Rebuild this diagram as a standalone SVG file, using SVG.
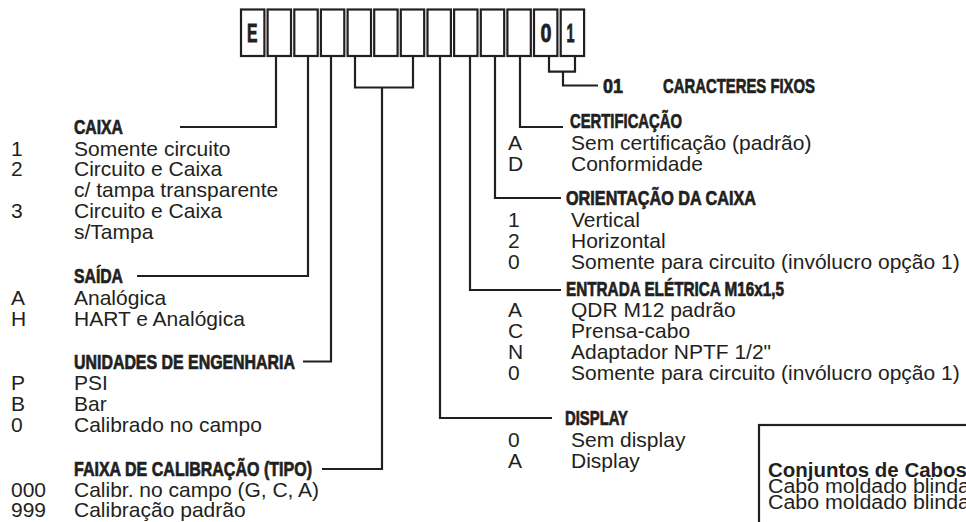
<svg xmlns="http://www.w3.org/2000/svg" width="966" height="522" viewBox="0 0 966 522">
<style>
.h{font-family:"Liberation Sans",Arial,sans-serif;font-weight:bold;font-size:20px;fill:#231f20;stroke:#231f20;stroke-width:0.7px}
.t{font-family:"Liberation Sans",Arial,sans-serif;font-size:21px;fill:#231f20}
.b{font-family:"Liberation Sans",Arial,sans-serif;font-size:19.5px;fill:#231f20}
.bb{font-family:"Liberation Sans",Arial,sans-serif;font-size:19.5px;font-weight:bold;fill:#231f20}
.k{font-family:"Liberation Sans",Arial,sans-serif;font-weight:bold;font-size:25px;fill:#231f20;stroke:#231f20;stroke-width:0.8px;text-anchor:middle}
.box{fill:#fff;stroke:#231f20;stroke-width:2.2}
.ln{fill:none;stroke:#231f20;stroke-width:2.2}
</style>
<rect width="966" height="522" fill="#fff"/>
<g id="code-boxes">
  <g id="box-1"><rect class="box" x="241" y="9.5" width="23.4" height="46.5"/><text class="k" x="252.2" y="42" textLength="10.5" lengthAdjust="spacingAndGlyphs">E</text></g>
  <g id="box-2"><rect class="box" x="267.6" y="9.5" width="23.4" height="46.5"/></g>
  <g id="box-3"><rect class="box" x="294.3" y="9.5" width="23.4" height="46.5"/></g>
  <g id="box-4"><rect class="box" x="320.9" y="9.5" width="23.4" height="46.5"/></g>
  <g id="box-5"><rect class="box" x="347.6" y="9.5" width="23.4" height="46.5"/></g>
  <g id="box-6"><rect class="box" x="374.2" y="9.5" width="23.4" height="46.5"/></g>
  <g id="box-7"><rect class="box" x="400.8" y="9.5" width="23.4" height="46.5"/></g>
  <g id="box-8"><rect class="box" x="427.5" y="9.5" width="23.4" height="46.5"/></g>
  <g id="box-9"><rect class="box" x="454.1" y="9.5" width="23.4" height="46.5"/></g>
  <g id="box-10"><rect class="box" x="480.8" y="9.5" width="23.4" height="46.5"/></g>
  <g id="box-11"><rect class="box" x="507.4" y="9.5" width="23.4" height="46.5"/></g>
  <g id="box-12"><rect class="box" x="534" y="9.5" width="23.4" height="46.5"/><text class="k" x="546" y="42" textLength="11" lengthAdjust="spacingAndGlyphs">0</text></g>
  <g id="box-13"><rect class="box" x="560.7" y="9.5" width="23.4" height="46.5"/><text class="k" x="570.5" y="42" textLength="8" lengthAdjust="spacingAndGlyphs">1</text></g>
</g>
<g id="connectors">
  <polyline class="ln" points="276,56 276,127 180,127"/>
  <polyline class="ln" points="308,56 308,276 137,276"/>
  <polyline class="ln" points="331,56 331,361.5 303,361.5"/>
  <polyline class="ln" points="355,56 355,87.5 413,87.5 413,56"/>
  <polyline class="ln" points="382,87.5 382,469 322,469"/>
  <polyline class="ln" points="440,56 440,418 552,418"/>
  <polyline class="ln" points="470,56 470,290 561,290"/>
  <polyline class="ln" points="495,56 495,198 561,198"/>
  <polyline class="ln" points="520,56 520,127 563,127"/>
  <polyline class="ln" points="549,56 549,71.7 575,71.7 575,56"/>
  <polyline class="ln" points="563,71.7 563,85.5 598,85.5"/>
</g>
<g id="caracteres-fixos">
  <text class="h" x="603" y="93" textLength="20" lengthAdjust="spacingAndGlyphs">01</text>
  <text class="h" x="663" y="93" textLength="152" lengthAdjust="spacingAndGlyphs">CARACTERES FIXOS</text>
</g>
<g id="caixa">
  <text class="h" x="74" y="134" textLength="49" lengthAdjust="spacingAndGlyphs">CAIXA</text>
  <text class="t" x="11" y="155.5">1</text><text class="t" x="74" y="155.5">Somente circuito</text>
  <text class="t" x="11" y="176.3">2</text><text class="t" x="74" y="176.3">Circuito e Caixa</text>
  <text class="t" x="74" y="197">c/ tampa transparente</text>
  <text class="t" x="11" y="218">3</text><text class="t" x="74" y="218">Circuito e Caixa</text>
  <text class="t" x="74" y="239">s/Tampa</text>
</g>
<g id="saida">
  <text class="h" x="74" y="283" textLength="49" lengthAdjust="spacingAndGlyphs">SAÍDA</text>
  <text class="t" x="11" y="305">A</text><text class="t" x="74" y="305">Analógica</text>
  <text class="t" x="11" y="326">H</text><text class="t" x="74" y="326">HART e Analógica</text>
</g>
<g id="unidades">
  <text class="h" x="74" y="369" textLength="221" lengthAdjust="spacingAndGlyphs">UNIDADES DE ENGENHARIA</text>
  <text class="t" x="11" y="390">P</text><text class="t" x="74" y="390">PSI</text>
  <text class="t" x="11" y="411">B</text><text class="t" x="74" y="411">Bar</text>
  <text class="t" x="11" y="432">0</text><text class="t" x="74" y="432">Calibrado no campo</text>
</g>
<g id="faixa">
  <text class="h" x="74" y="476" textLength="238" lengthAdjust="spacingAndGlyphs">FAIXA DE CALIBRAÇÃO (TIPO)</text>
  <text class="t" x="11" y="496.5">000</text><text class="t" x="74" y="496.5">Calibr. no campo (G, C, A)</text>
  <text class="t" x="11" y="516.5">999</text><text class="t" x="74" y="516.5">Calibração padrão</text>
</g>
<g id="certificacao">
  <text class="h" x="570" y="128" textLength="112" lengthAdjust="spacingAndGlyphs">CERTIFICAÇÃO</text>
  <text class="t" x="508" y="149.5">A</text><text class="t" x="571" y="149.5">Sem certificação (padrão)</text>
  <text class="t" x="508" y="170.5">D</text><text class="t" x="571" y="170.5">Conformidade</text>
</g>
<g id="orientacao">
  <text class="h" x="566" y="205" textLength="190" lengthAdjust="spacingAndGlyphs">ORIENTAÇÃO DA CAIXA</text>
  <text class="t" x="508" y="227">1</text><text class="t" x="571" y="227">Vertical</text>
  <text class="t" x="508" y="248">2</text><text class="t" x="571" y="248">Horizontal</text>
  <text class="t" x="508" y="268.5">0</text><text class="t" x="571" y="268.5">Somente para circuito (invólucro opção 1)</text>
</g>
<g id="entrada">
  <text class="h" x="566" y="296" textLength="218" lengthAdjust="spacingAndGlyphs">ENTRADA ELÉTRICA M16x1,5</text>
  <text class="t" x="508" y="317">A</text><text class="t" x="571" y="317">QDR M12 padrão</text>
  <text class="t" x="508" y="337.5">C</text><text class="t" x="571" y="337.5">Prensa-cabo</text>
  <text class="t" x="508" y="358.5">N</text><text class="t" x="571" y="358.5">Adaptador NPTF 1/2"</text>
  <text class="t" x="508" y="379.5">0</text><text class="t" x="571" y="379.5">Somente para circuito (invólucro opção 1)</text>
</g>
<g id="display">
  <text class="h" x="565" y="425" textLength="63" lengthAdjust="spacingAndGlyphs">DISPLAY</text>
  <text class="t" x="508" y="447">0</text><text class="t" x="571" y="447">Sem display</text>
  <text class="t" x="508" y="468">A</text><text class="t" x="571" y="468">Display</text>
</g>
<g id="conjuntos-cabos">
  <rect class="box" x="759" y="425" width="230" height="120"/>
  <text class="bb" x="768" y="477" textLength="199" lengthAdjust="spacingAndGlyphs">Conjuntos de Cabos</text>
  <text class="b" x="768" y="493" textLength="202" lengthAdjust="spacingAndGlyphs">Cabo moldado blinda</text>
  <text class="b" x="768" y="509" textLength="202" lengthAdjust="spacingAndGlyphs">Cabo moldado blinda</text>
</g>
</svg>
